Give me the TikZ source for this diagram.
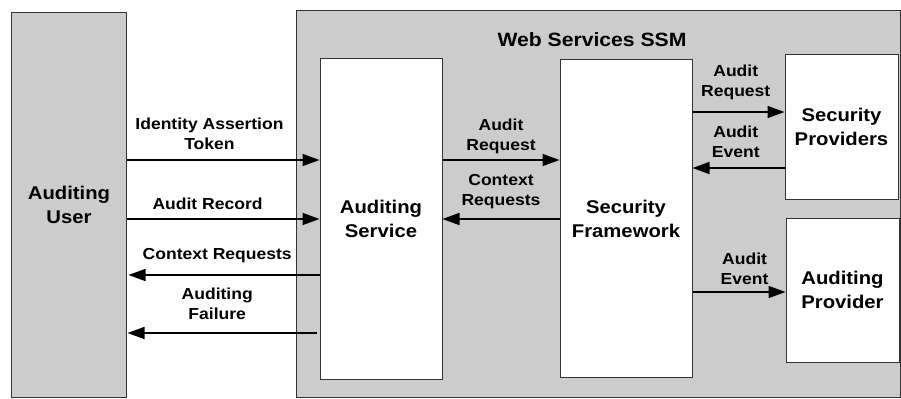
\documentclass[tikz,border=0pt]{standalone}
\usepackage{fontspec}
\setmainfont{Liberation Sans}[FakeStretch=1.1]
\usetikzlibrary{positioning, arrows.meta}

\begin{document}
\begin{tikzpicture}[
    x=1bp, y=-1bp,
    >={Triangle[length=17bp, width=12bp]},
    frame/.style={rectangle, draw=black!80, line width=1bp, fill=black!20, inner sep=0pt},
    block/.style={rectangle, draw=black!80, line width=1bp, fill=white, align=center, inner sep=0pt, font=\fontsize{18.5}{24}\selectfont\bfseries},
    msg/.style={->, line width=1.6bp},
    lbl/.style={align=center, inner sep=0pt, font=\fontsize{16}{20}\selectfont\bfseries}
]
\useasboundingbox (0,0) rectangle (901,398);

% Outer frames
\node[frame, minimum width=604bp, minimum height=387bp] (ssm) at (598,203.5) {};
\node[block, fill=black!20, minimum width=114bp, minimum height=385bp] (user) at (69,204.5) {Auditing\\User};
\node[font=\fontsize{19.3}{24}\selectfont\bfseries] (title) at (592,40) {Web Services SSM};

% Inner blocks
\node[block, minimum width=122bp, minimum height=321bp] (service) at (381,218.5) {Auditing\\Service};
\node[block, minimum width=132bp, minimum height=318bp, right=117bp of service] (framework) {Security\\Framework};
\node[block, minimum width=113bp, minimum height=145bp] (secprov) at (841.5,126.5) {Security\\Providers};
\node[block, minimum width=113bp, minimum height=144bp] (audprov) at (842.5,290) {Auditing\\Provider};

% Messages between user and service
\draw[msg] (user.east |- 0,160) -- node[lbl, above=10bp, pos=0.43] {Identity Assertion\\Token} (service.west |- 0,160);
\draw[msg] (user.east |- 0,219) -- node[lbl, above=9bp, pos=0.42] {Audit Record} (service.west |- 0,219);
\draw[msg, shorten >=2bp] (service.west |- 0,275) -- node[lbl, above=11bp, pos=0.53] {Context Requests} (user.east |- 0,275);
\draw[msg, shorten <=3bp, shorten >=1bp] (service.west |- 0,333) -- node[lbl, above=13bp, pos=0.53] {Auditing\\Failure} (user.east |- 0,333);

% Messages inside the SSM
\draw[msg] (service.east |- 0,160) -- node[lbl, above=5bp] {Audit\\Request} (framework.west |- 0,160);
\draw[msg] (framework.west |- 0,219) -- node[lbl, above=9bp] {Context\\Requests} (service.east |- 0,219);
\draw[msg] (framework.east |- 0,112) -- node[lbl, above=11bp, pos=0.47] {Audit\\Request} (secprov.west |- 0,112);
\draw[msg] (secprov.west |- 0,168) -- node[lbl, above=10bp, pos=0.53] {Audit\\Event} (framework.east |- 0,168);
\draw[msg] (framework.east |- 0,292) -- node[lbl, above=7bp, pos=0.56] {Audit\\Event} (audprov.west |- 0,292);

\end{tikzpicture}
\end{document}
